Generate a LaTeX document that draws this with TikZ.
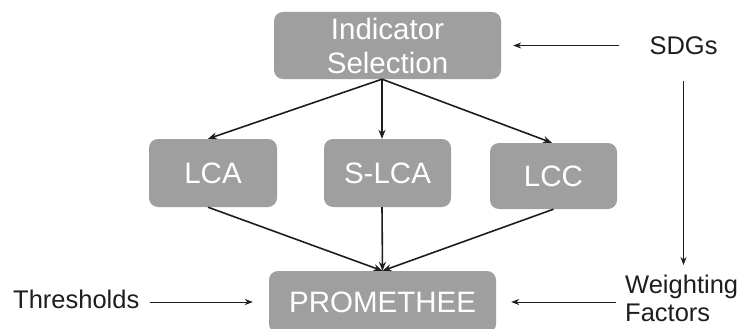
\documentclass[tikz,border=0pt]{standalone}
\usepackage{fontspec}
\setmainfont{Liberation Sans}
\usetikzlibrary{arrows.meta,calc}
\definecolor{boxgray}{HTML}{9F9F9F}
\definecolor{ink}{HTML}{1E1E1E}
\begin{document}
\begin{tikzpicture}[x=1pt,y=-1pt,
  box/.style={fill=boxgray, rounded corners=9pt, text=white, inner sep=0pt,
    font=\fontsize{29.5}{34}\selectfont, align=center},
  lbl/.style={text=ink, inner sep=0pt, font=\fontsize{25.5}{28}\selectfont},
  mainarrow/.style={-{Stealth[length=9pt,width=7pt]}, line width=1.6pt, draw=ink},
  sidearrow/.style={-{Stealth[length=8pt,width=6pt]}, line width=0.8pt, draw=ink}]
\useasboundingbox (0,0) rectangle (744,329);
\clip (0,0) rectangle (744,329);
\fill[white] (0,0) rectangle (744,329);

\node[box, minimum width=227pt, minimum height=67pt] (ind) at (387.5,45.5) {Indicator\\Selection};
\node[box, minimum width=128pt, minimum height=68pt] (lca) at (213,173) {LCA};
\node[box, minimum width=127pt, minimum height=68pt] (slca) at (387.5,173) {S-LCA};
\node[box, minimum width=127pt, minimum height=66pt] (lcc) at (553.5,176) {LCC};
\node[box, minimum width=227pt, minimum height=62pt] (prom) at (382.5,302) {PROMETHEE};

\node[lbl] (sdg) at (683.5,45.5) {SDGs};
\node[lbl, anchor=west] (thr) at (13,299) {Thresholds};
\node[lbl, anchor=north west, align=left] (wf) at (625,275) {Weighting\\Factors};

\draw[mainarrow] ([xshift=-5.5pt]ind.south) -- ([xshift=-5pt]lca.north);
\draw[mainarrow] ([xshift=-5.5pt]ind.south) -- ([xshift=-5.5pt]slca.north);
\draw[mainarrow] ([xshift=-5.5pt]ind.south) -- ([xshift=-1.5pt]lcc.north);
\draw[mainarrow] ([xshift=-5pt]lca.south) -- (prom.north);
\draw[mainarrow] ([xshift=-5.5pt]slca.south) -- (prom.north);
\draw[mainarrow] (lcc.south) -- (prom.north);

\draw[sidearrow, shorten <=30pt, shorten >=12pt] (sdg.west) -- (ind.east);
\draw[sidearrow, shorten <=26pt, shorten >=10pt] (sdg.south) -- (sdg.south |- wf.north);
\draw[sidearrow, shorten <=10pt, shorten >=16pt] (thr.east |- prom.west) -- (prom.west);
\draw[sidearrow, shorten <=9pt, shorten >=15pt] (wf.west |- prom.east) -- (prom.east);
\end{tikzpicture}
\end{document}
